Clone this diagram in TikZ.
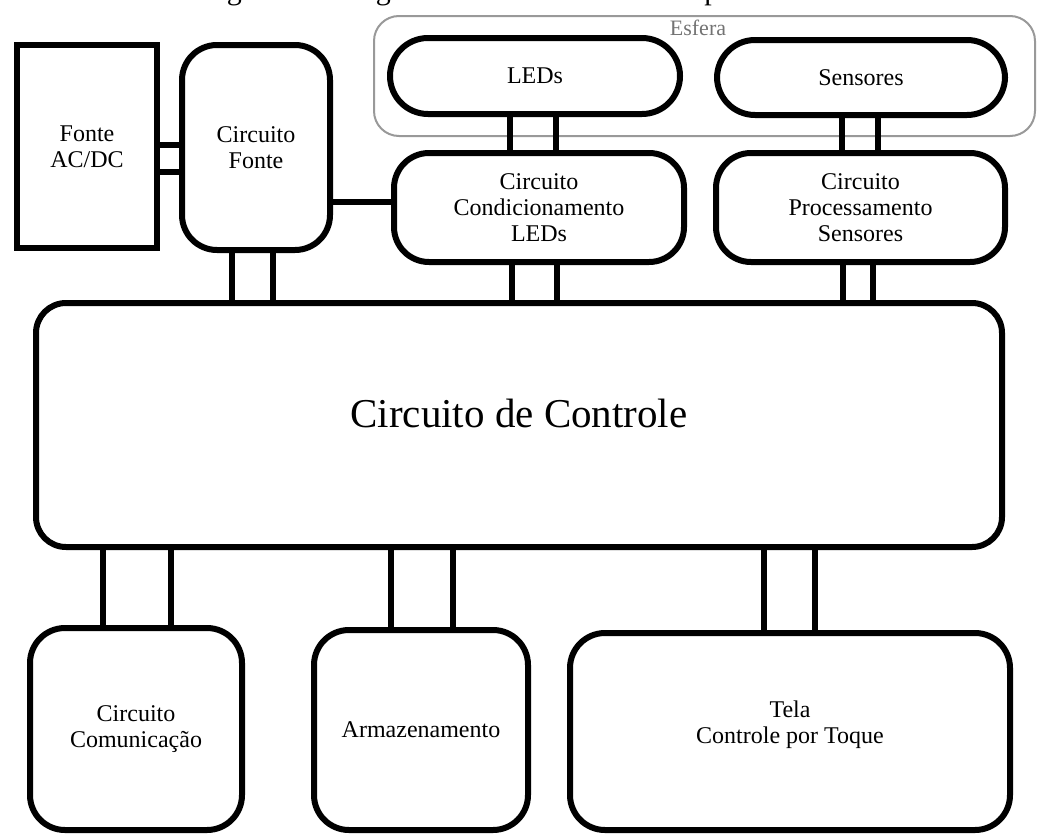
\documentclass[tikz,border=0pt]{standalone}
\usepackage{fontspec}
\setmainfont{Liberation Serif}
\begin{document}
\begin{tikzpicture}[x=1pt,y=-1pt,
  txt/.style={font=\fontsize{24}{26}\selectfont, align=center},
  box/.style={draw=black, line width=6pt, rounded corners=#1, inner sep=0pt, txt},
  box/.default=35pt,
  sqbox/.style={draw=black, line width=6pt, inner sep=0pt, txt},
  oval/.style={draw=black, line width=6pt, rounded corners=38pt, inner sep=0pt, txt},
  esf/.style={draw=black!40, line width=2pt, rounded corners=25pt, inner sep=0pt},
  esflab/.style={text=black!55, font=\fontsize{22}{24}\selectfont},
  link/.style={line width=5.5pt}
]
\useasboundingbox (0,0) rectangle (1038,835);

\node[font=\fontsize{30}{32}\selectfont, anchor=base, inner sep=0pt] (title) at (468,-1) {Figura 3 – Diagrama de Blocos do Protótipo};

% Esfera group
\node[esf, minimum width=661pt, minimum height=120pt] (esfera) at (704.5,76) {};
\node[esflab] (esferatxt) at (698,28) {Esfera};
\node[oval, minimum width=290pt, minimum height=76pt] (leds) at (535,76) {LEDs};
\node[oval, minimum width=288pt, minimum height=75pt] (sens) at (861,77.5) {Sensores};

% Upper row
\node[sqbox, minimum width=140pt, minimum height=203pt] (fonte) at (87,146.5) {Fonte\\AC/DC};
\node[box, minimum width=148pt, minimum height=205pt] (cfonte) at (256,147.5) {Circuito\\Fonte};
\node[box, minimum width=290pt, minimum height=109pt] (cond) at (539,207.5) {Circuito\\Condicionamento\\LEDs};
\node[box, minimum width=289pt, minimum height=109pt] (proc) at (860.5,207.5) {Circuito\\Processamento\\Sensores};

% Control
\node[box=30pt, minimum width=966pt, minimum height=244pt,
  label={[font=\fontsize{41}{44}\selectfont, yshift=12pt]center:Circuito de Controle}] (ctrl) at (519,425) {};

% Lower row
\node[box, minimum width=212pt, minimum height=202pt] (comm) at (136,729) {Circuito\\Comunicação};
\node[box, minimum width=214pt, minimum height=200pt] (arm) at (421,730) {Armazenamento};
\node[box, minimum width=440pt, minimum height=197pt,
  label={[txt, yshift=7pt]center:Tela\\Controle por Toque}] (tela) at (790,731.5) {};

% Connectors
\draw[link] (fonte.east |- 0,145) -- (cfonte.west |- 0,145);
\draw[link] (fonte.east |- 0,172) -- (cfonte.west |- 0,172);
\draw[link] (cfonte.east |- 0,202) -- (cond.west |- 0,202);
\draw[link] (cfonte.south -| 232,0) -- (ctrl.north -| 232,0);
\draw[link] (cfonte.south -| 273,0) -- (ctrl.north -| 273,0);
\draw[link] (leds.south -| 510,0) -- (cond.north -| 510,0);
\draw[link] (leds.south -| 556,0) -- (cond.north -| 556,0);
\draw[link] (sens.south -| 842,0) -- (proc.north -| 842,0);
\draw[link] (sens.south -| 878,0) -- (proc.north -| 878,0);
\draw[link] (cond.south -| 512,0) -- (ctrl.north -| 512,0);
\draw[link] (cond.south -| 557,0) -- (ctrl.north -| 557,0);
\draw[link] (proc.south -| 843,0) -- (ctrl.north -| 843,0);
\draw[link] (proc.south -| 873,0) -- (ctrl.north -| 873,0);
\draw[link] (ctrl.south -| 103,0) -- (comm.north -| 103,0);
\draw[link] (ctrl.south -| 171,0) -- (comm.north -| 171,0);
\draw[link] (ctrl.south -| 391,0) -- (arm.north -| 391,0);
\draw[link] (ctrl.south -| 453,0) -- (arm.north -| 453,0);
\draw[link] (ctrl.south -| 764,0) -- (tela.north -| 764,0);
\draw[link] (ctrl.south -| 815,0) -- (tela.north -| 815,0);
\end{tikzpicture}
\end{document}
